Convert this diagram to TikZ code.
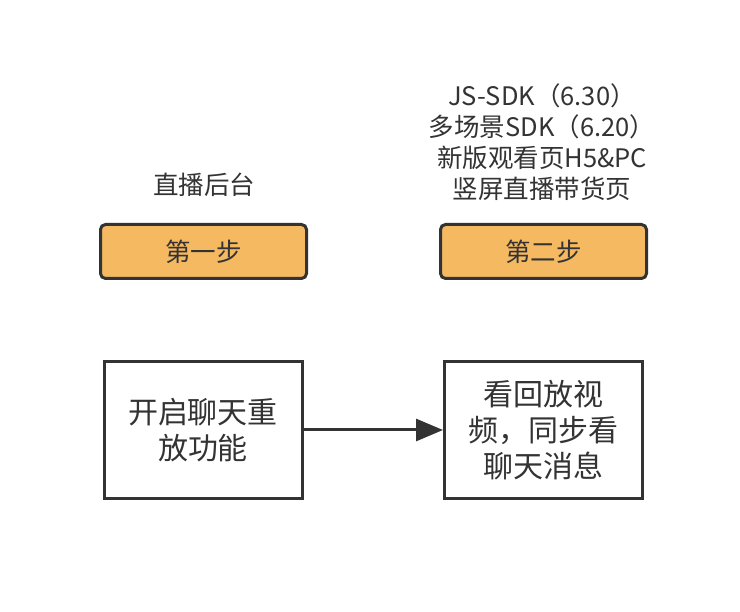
\documentclass[tikz,border=0pt]{standalone}
\usepackage{fontspec}
\setmainfont{Noto Sans CJK SC}
\usetikzlibrary{arrows.meta}
\definecolor{ink}{HTML}{333333}
\definecolor{stepfill}{HTML}{F5B961}
\begin{document}
\begin{tikzpicture}[x=1pt,y=-1pt,
  stepbox/.style={draw=ink, fill=stepfill, line width=3pt, rounded corners=5pt,
    minimum width=206pt, minimum height=54pt, inner sep=0pt, text=ink,
    font=\fontsize{25.5pt}{30pt}\selectfont},
  mainbox/.style={draw=ink, fill=white, line width=3pt, minimum width=198pt,
    minimum height=137pt, inner sep=0pt, align=center, text=ink,
    font=\fontsize{30pt}{36pt}\selectfont},
  lbl/.style={align=center, text=ink, inner sep=0pt,
    font=\fontsize{25.5pt}{31pt}\selectfont},
  flow/.style={draw=ink, line width=3pt, -{Triangle[length=27pt,width=22pt]}}]
\useasboundingbox (0,0) rectangle (740,612);
\node[lbl] (lab1) at (204,185) {直播后台};
\node[lbl] (lab2) at (542,142) {JS-SDK（6.30）\\多场景SDK（6.20）\\新版观看页H5\&PC\\竖屏直播带货页};
\node[stepbox] (s1) at (203.5,251.5) {第一步};
\node[stepbox] (s2) at (543.5,251.5) {第二步};
\node[mainbox] (b1) at (203,430) {开启聊天重\\放功能};
\node[mainbox] (b2) at (543.5,430) {看回放视\\频，同步看\\聊天消息};
\draw[flow] (b1) -- (b2);
\end{tikzpicture}
\end{document}
